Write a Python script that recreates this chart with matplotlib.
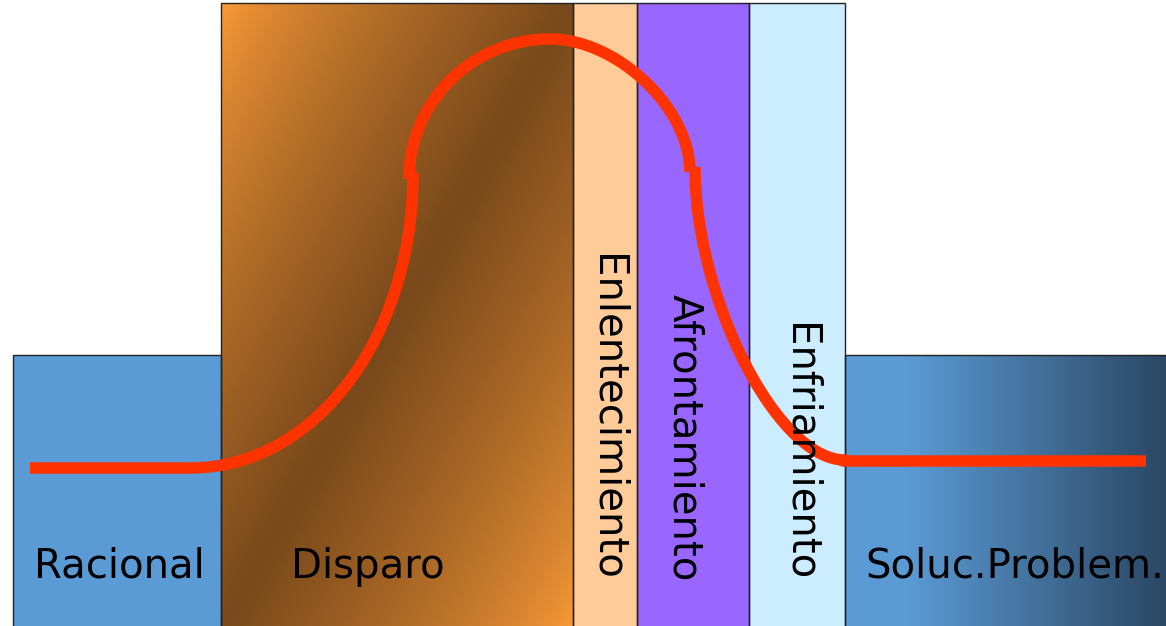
import numpy as np
import matplotlib.pyplot as plt
from matplotlib.patches import Rectangle

# Stages of the arousal cycle (x edges and top level, in canvas units)
stage_names = ["Racional", "Disparo", "Enlentecimiento", "Afrontamiento",
               "Enfriamiento", "Soluc.Problem."]
stage_left = [13, 221, 573, 637, 749, 845]
stage_right = [221, 573, 637, 749, 845, 1180]
stage_top = [271, 623, 623, 623, 623, 271]
stage_colors = ["#5B9BD5", None, "#FFCC99", "#9966FF", "#CCECFF", None]

# Arousal curve: anchor points of each piece and its handle factor
flat_left_x = [30, 190]
flat_left_y = [158, 158]
rise = [(190, 158), (413, 453), 0.56, "h"]
peak_up = [(409, 447), (550, 587), 0.55, "v"]
peak_down = [(550, 587), (690, 454), 0.48, "h"]
fall = [(695, 459), (845, 166), 0.45, "v"]
flat_right_x = [843, 1146]
flat_right_y = [165, 165]

W, H = 1166, 626


def quarter(p0, p3, k, start, n=80):
    x0, y0 = p0
    x3, y3 = p3
    if start == "h":
        c1 = (x0 + k * (x3 - x0), y0)
        c2 = (x3, y3 - k * (y3 - y0))
    else:
        c1 = (x0, y0 + k * (y3 - y0))
        c2 = (x3 - k * (x3 - x0), y3)
    t = np.linspace(0, 1, n)[:, None]
    pts = ((1 - t) ** 3 * np.array(p0) + 3 * (1 - t) ** 2 * t * np.array(c1)
           + 3 * (1 - t) * t ** 2 * np.array(c2) + t ** 3 * np.array(p3))
    return pts[:, 0], pts[:, 1]


fig = plt.figure(figsize=(11.66, 6.26), dpi=100)
ax = fig.add_axes([0, 0, 1, 1])
ax.set_xlim(0, W)
ax.set_ylim(0, H)
ax.axis("off")

# plain coloured stages
for name, l, r, top, c in zip(stage_names, stage_left, stage_right, stage_top, stage_colors):
    if c is not None:
        ax.add_patch(Rectangle((l, -5), r - l, top + 5, facecolor=c, edgecolor="none", zorder=1))

# Disparo: diagonal gradient orange -> brown -> orange
orange = np.array([253, 156, 56]) / 255
brown = np.array([121, 73, 27]) / 255
l, r, top = stage_left[1], stage_right[1], stage_top[1]
xx, yy = np.meshgrid(np.linspace(0, 1, 300), np.linspace(0, 1, 500))
u = xx + yy  # yy=0 at top row of image
w = np.clip(1 - np.abs(u - 1), 0, 1) ** 0.75
w = w[..., None]
img = orange * (1 - w) + brown * w
ax.imshow(img, extent=(l, r, -5, top), origin="upper", aspect="auto", zorder=1,
          interpolation="bilinear")

# Soluc.Problem.: horizontal gradient light -> dark blue
light = np.array([91, 155, 213]) / 255
dark = np.array([42, 70, 98]) / 255
l, r, top = stage_left[5], stage_right[5], stage_top[5]
xs = np.linspace(l, r, 400)
t = np.clip((xs - 905) / (1170 - 905), 0, 1)[None, :, None]
img = light * (1 - t) + dark * t
img = np.repeat(img, 10, axis=0)
ax.imshow(img, extent=(l, r, -5, top), origin="upper", aspect="auto", zorder=1,
          interpolation="bilinear")

# outlines
for l, r, top in zip(stage_left, stage_right, stage_top):
    ax.add_patch(Rectangle((l, -5), r - l, top + 5, facecolor="none",
                           edgecolor="#222222", lw=1.0, zorder=2))

# curve
red = "#FF3300"
lw = 8.3
x1, y1 = quarter(*rise)
ax.plot(np.r_[flat_left_x, x1], np.r_[flat_left_y, y1], color=red, lw=lw,
        solid_capstyle="butt", zorder=3)
xa, ya = quarter(*peak_up)
xb, yb = quarter(*peak_down)
ax.plot(np.r_[xa, xb], np.r_[ya, yb], color=red, lw=lw, solid_capstyle="butt", zorder=3)
x2, y2 = quarter(*fall)
ax.plot(np.r_[x2, flat_right_x], np.r_[y2, flat_right_y], color=red, lw=lw,
        solid_capstyle="butt", zorder=3)

# labels
fs = 29
ax.text(119, 48, stage_names[0], fontsize=fs, ha="center", va="baseline", zorder=4)
ax.text(368, 48, stage_names[1], fontsize=fs, ha="center", va="baseline", zorder=4)
ax.text(865, 48, stage_names[5], fontsize=fs, ha="left", va="baseline", zorder=4)
# vertical labels: baseline on the left, reading downwards
for i, xb in zip([2, 3, 4], [595, 673, 788]):
    ax.text(xb, 45, stage_names[i], fontsize=fs, rotation=270, rotation_mode="anchor",
            ha="right", va="baseline", zorder=4)

fig.savefig("out.png", dpi=100)
